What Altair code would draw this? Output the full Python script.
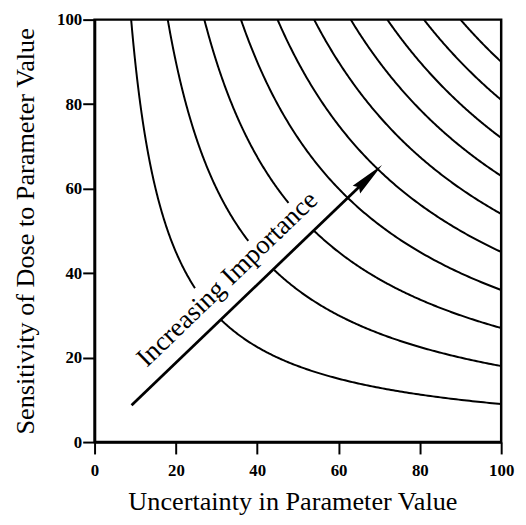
import altair as alt
import numpy as np
import pandas as pd

# Iso-importance levels (uncertainty x sensitivity = constant)
levels = [900, 1800, 2700, 3600, 4500, 5400, 6300, 7200, 8100, 9000]
# the three lowest curves are interrupted where the label sits
gap_levels = [900, 1800, 2700]
gap_from = [24.7, 37.8, 47.7]
gap_to = [31.1, 44.2, 54.0]

# arrow (tail -> tip) and label
arrow_x = [9.1, 70.7]
arrow_y = [8.7, 65.6]
label_text = ["Increasing Importance"]
label_x = [34.0]
label_y = [37.2]

tick_values = [0, 20, 40, 60, 80, 100]

# ---- build curve table
rows = []
seg = 0
for c in levels:
    x_start = c / 100.0
    if c in gap_levels:
        i = gap_levels.index(c)
        pieces = [(x_start, gap_from[i]), (gap_to[i], 100.0)]
    else:
        pieces = [(x_start, 100.0)]
    for a, b in pieces:
        for xv in np.geomspace(a, b, 160):
            rows.append({"x": xv, "y": c / xv, "seg": seg})
        seg += 1
curves = pd.DataFrame(rows)

# arrow shaft (stops inside the arrow head)
frac = 0.93
shaft = pd.DataFrame({
    "x": [arrow_x[0], arrow_x[0] + frac * (arrow_x[1] - arrow_x[0])],
    "y": [arrow_y[0], arrow_y[0] + frac * (arrow_y[1] - arrow_y[0])],
    "o": [0, 1],
})
tip = pd.DataFrame({"x": [arrow_x[1]], "y": [arrow_y[1]]})
label = pd.DataFrame({"x": label_x, "y": label_y, "t": label_text})

SERIF = "Liberation Serif"

xscale = alt.Scale(domain=[0, 100], nice=False, zero=False)
yscale = alt.Scale(domain=[0, 100], nice=False, zero=False)

xaxis = alt.Axis(
    values=tick_values, grid=False, format="d",
    domainColor="black", domainWidth=2.5,
    tickColor="black", tickWidth=2, tickSize=12,
    labelFont=SERIF, labelFontWeight="bold", labelFontSize=17, labelColor="black",
    labelPadding=9, labelFlush=False, labelOverlap=False,
    title="Uncertainty in Parameter Value",
    titleFont=SERIF, titleFontSize=26.5, titleFontWeight="normal", titleColor="black",
    titleX=200, titleY=68, titleAlign="center", titleBaseline="alphabetic",
)
yaxis = alt.Axis(
    values=tick_values, grid=False, format="d",
    domainColor="black", domainWidth=2.5,
    tickColor="black", tickWidth=2, tickSize=12,
    labelFont=SERIF, labelFontWeight="bold", labelFontSize=17, labelColor="black",
    labelPadding=1, labelFlush=False, labelOverlap=False,
    title="Sensitivity of Dose to Parameter Value",
    titleFont=SERIF, titleFontSize=26.5, titleFontWeight="normal", titleColor="black",
    titleX=-62, titleY=213.5, titleAngle=270, titleAlign="center",
    titleBaseline="alphabetic",
)

lines = alt.Chart(curves).mark_line(color="black", strokeWidth=2, clip=True).encode(
    x=alt.X("x:Q", scale=xscale, axis=xaxis),
    y=alt.Y("y:Q", scale=yscale, axis=yaxis),
    detail="seg:N",
    order="x:Q",
)

shaft_line = alt.Chart(shaft).mark_line(color="black", strokeWidth=2.8, strokeCap="butt").encode(
    x="x:Q", y="y:Q", order="o:Q"
)

head = alt.Chart(tip).mark_point(
    shape="M0,0L-0.3,2L0,1.8L0.3,2Z", filled=True, size=1296, angle=46,
    color="black", opacity=1, strokeWidth=0,
).encode(x="x:Q", y="y:Q")

text = alt.Chart(label).mark_text(
    font=SERIF, fontSize=27, angle=316, align="center", baseline="alphabetic",
    color="black",
).encode(x="x:Q", y="y:Q", text="t:N")

chart = alt.layer(lines, shaft_line, head, text).properties(
    width=411, height=427,
    autosize=alt.AutoSizeParams(type="none"),
    padding={"left": 87.5, "top": 9, "right": 17, "bottom": 75},
    background="white",
).configure_view(stroke="black", strokeWidth=2.5)

chart.save("out.html", embed_options={"renderer": "svg", "actions": False})
